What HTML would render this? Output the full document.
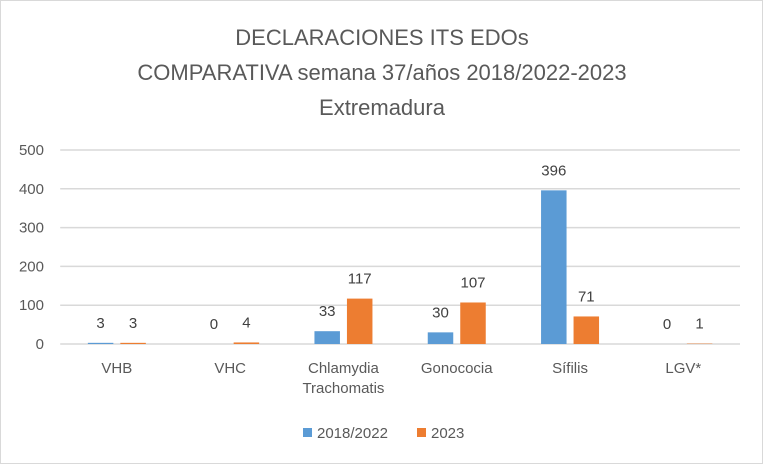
<!DOCTYPE html>
<html><head><meta charset="utf-8"><style>
body{margin:0;background:#fff;}
svg{display:block;font-family:"Liberation Sans",Calibri,sans-serif;}
</style></head><body>
<svg id="chart" width="763" height="464">
<rect x="0.5" y="0.5" width="762" height="463" fill="#fff" stroke="#d9d9d9"/>
<g fill="#595959" font-size="22" text-anchor="middle">
<text x="382" y="45">DECLARACIONES ITS EDOs</text>
<text x="382" y="80">COMPARATIVA semana 37/años 2018/2022-2023</text>
<text x="382" y="115">Extremadura</text>
</g>
<g id="grid"></g><g id="bars"></g>
<g font-size="15" fill="#595959">
<rect x="303" y="428" width="9" height="9" fill="#5b9bd5"/>
<text x="317" y="438">2018/2022</text>
<rect x="417" y="428" width="9" height="9" fill="#ed7d31"/>
<text x="431" y="438">2023</text>
</g>
</svg>
<script>
const categories=[["VHB"],["VHC"],["Chlamydia","Trachomatis"],["Gonococia"],["Sífilis"],["LGV*"]];
const series2018=[3,0,33,30,396,0];
const series2023=[3,4,117,107,71,1];
const ticks=[0,100,200,300,400,500];
const NS="http://www.w3.org/2000/svg";
const left=60.2,right=740,y0=344,pxPer=0.388;
const band=(right-left)/categories.length;
const y=v=>y0-v*pxPer;
function mk(t,a,p){const e=document.createElementNS(NS,t);for(const k in a)e.setAttribute(k,a[k]);p.appendChild(e);return e;}
const grid=document.getElementById('grid'),bars=document.getElementById('bars');
ticks.forEach(t=>{
const l=mk('line',{x1:left,x2:right,y1:y(t),y2:y(t),stroke:'#d9d9d9','stroke-width':1.5},grid);


const tx=mk('text',{x:44,y:y(t)+5,'text-anchor':'end','font-size':15,fill:'#595959'},grid);
tx.textContent=t;


});
categories.forEach((c,i)=>{
const cx=left+band*(i+0.5);
[[series2018[i],'#5b9bd5',-29,'2018'],[series2023[i],'#ed7d31',3.5,'2023']].forEach(([v,col,off,nm])=>{
const r=mk('rect',{x:cx+off,y:y(v),width:25.5,height:v*pxPer,fill:col},bars);


const t=mk('text',{x:cx+off+12.75,y:y(v)-15,'text-anchor':'middle','font-size':15,fill:'#404040'},bars);
t.textContent=v;


});
c.forEach((ln,j)=>{
const t=mk('text',{x:cx,y:373+j*20,'text-anchor':'middle','font-size':15,fill:'#595959'},bars);
t.textContent=ln;


});
});
</script>
</body></html>
